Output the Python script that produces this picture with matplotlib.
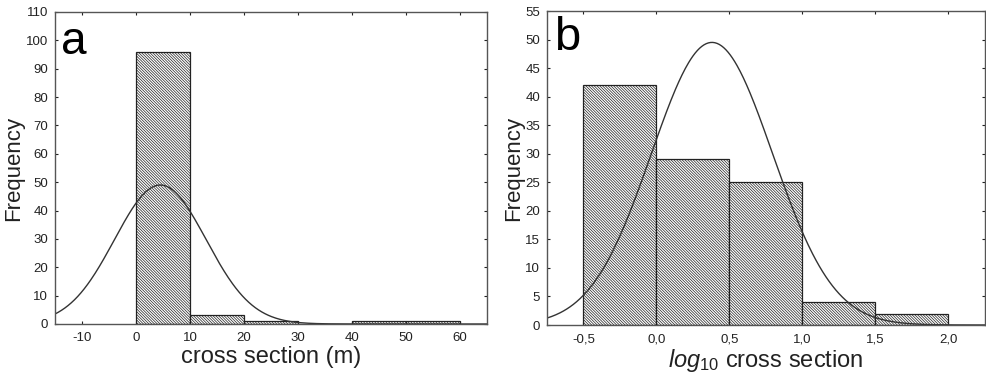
import numpy as np
import matplotlib.pyplot as plt

plt.rcParams['font.family'] = ['Liberation Sans', 'DejaVu Sans']
plt.rcParams['mathtext.fontset'] = 'custom'
plt.rcParams['mathtext.it'] = 'Liberation Sans:italic'
plt.rcParams['mathtext.rm'] = 'Liberation Sans'
plt.rcParams['axes.unicode_minus'] = False
plt.rcParams['hatch.linewidth'] = 0.5
plt.rcParams['hatch.color'] = '#333333'

# panel a: raw cross section (m)
edges_a = [0, 10, 20, 30, 40, 50, 60]
counts_a = [96, 3, 1, 0, 1, 1]
# fitted normal curve (mean, sd, peak height)
fit_a = (4.5, 8.5, 49)

# panel b: log10 cross section
edges_b = [-0.5, 0.0, 0.5, 1.0, 1.5, 2.0]
counts_b = [42, 29, 25, 4, 2]
fit_b = (0.38, 0.415, 49.5)

ticks_a = [-10, 0, 10, 20, 30, 40, 50, 60]
ticks_b = [-0.5, 0.0, 0.5, 1.0, 1.5, 2.0]
labels_b = ['-0,5', '0,0', '0,5', '1,0', '1,5', '2,0']


def draw(ax, edges, counts, fit, xlim, ylim, yticks):
    left = edges[:-1]
    widths = np.diff(edges)
    ax.bar(left, counts, width=widths, align='edge', color='white',
           edgecolor='#222222', linewidth=0.9, hatch='\\' * 12)
    x = np.linspace(xlim[0], xlim[1], 400)
    mu, sd, h = fit
    ax.plot(x, h * np.exp(-(x - mu) ** 2 / (2 * sd ** 2)), color='#333333', lw=1.0)
    ax.set_xlim(*xlim)
    ax.set_ylim(*ylim)
    ax.set_yticks(yticks)
    ax.tick_params(direction='in', length=2, labelsize=9.5, colors='#222222',
                   top=True, right=True, pad=6)
    ax.tick_params(axis='y', pad=5)
    for s in ax.spines.values():
        s.set_color('#555555')
        s.set_linewidth(1.0)
    ax.set_ylabel('Frequency', fontsize=16, labelpad=1, color='#222222')


fig = plt.figure(figsize=(9.87, 3.79), dpi=100)
ax1 = fig.add_axes([55 / 987, 1 - 324 / 379, 432 / 987, 312 / 379])
ax2 = fig.add_axes([547 / 987, 1 - 325 / 379, 438 / 987, 314 / 379])

draw(ax1, edges_a, counts_a, fit_a, (-15, 65), (0, 110), range(0, 111, 10))
ax1.set_xticks(ticks_a)
ax1.set_xlabel('cross section (m)', fontsize=17, labelpad=1, color='#222222')
ax1.text(0.015, 0.975, 'a', transform=ax1.transAxes, fontsize=33, va='top', ha='left')

draw(ax2, edges_b, counts_b, fit_b, (-0.75, 2.25), (0, 55), range(0, 56, 5))
ax2.set_xticks(ticks_b)
ax2.set_xticklabels(labels_b)
ax2.set_xlabel(r'$\mathit{log}_{\mathit{10}}$ cross section', fontsize=17, labelpad=1,
               color='#222222')
ax2.text(0.015, 0.985, 'b', transform=ax2.transAxes, fontsize=34, va='top', ha='left')

fig.savefig('out.png', dpi=100)
